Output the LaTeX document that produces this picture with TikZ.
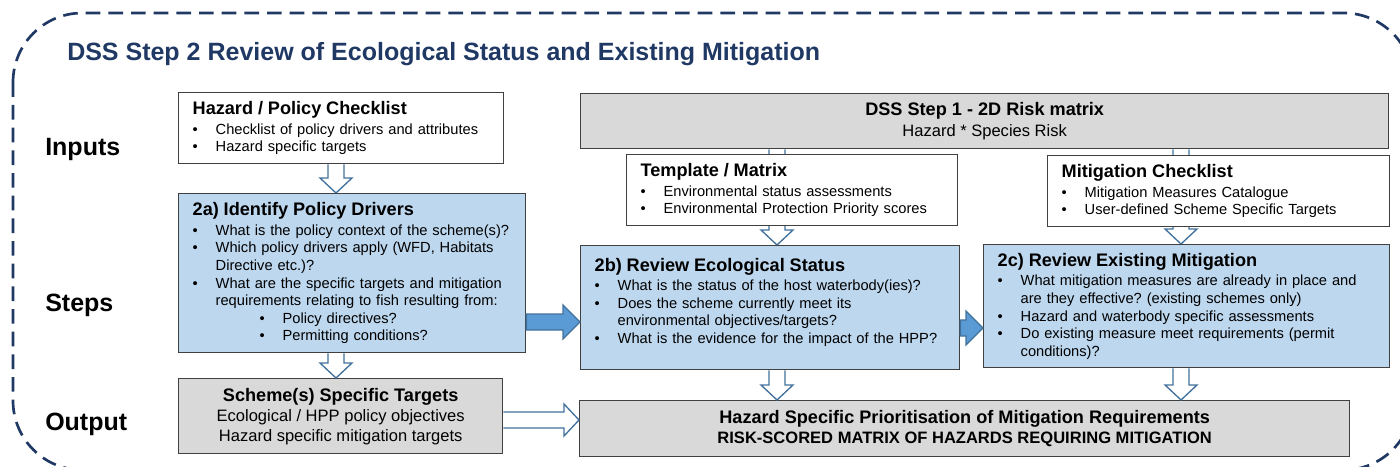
\documentclass[tikz,border=0pt]{standalone}
\usepackage{fontspec}
\setmainfont{Liberation Sans}
\usetikzlibrary{calc, backgrounds}
\frenchspacing

\definecolor{navy}{RGB}{31,56,100}
\definecolor{boxline}{RGB}{64,64,64}
\definecolor{greyfill}{RGB}{217,217,217}
\definecolor{stepfill}{RGB}{189,215,238}
\definecolor{arrowfill}{RGB}{91,155,213}
\definecolor{arrowline}{RGB}{65,113,156}

\newcommand{\hd}[1]{{\fontsize{13.6pt}{16pt}\selectfont\bfseries #1}}
\newcommand{\bl}{\makebox[17.25pt][l]{\textbullet}}
\newcommand{\subbl}{\hspace*{50.25pt}\bl}
\newcommand{\ind}{\hspace*{17.25pt}}

\newcommand{\hollowdown}[2]{%
  \draw [hollowarrow] let \p1=(#1), \p2=(#2) in
    (\x1-6pt,\y1) -- (\x1-6pt,\y2+11.25pt) -- (\x1-12pt,\y2+11.25pt) -- (\x1,\y2)
    -- (\x1+12pt,\y2+11.25pt) -- (\x1+6pt,\y2+11.25pt) -- (\x1+6pt,\y1);}
\newcommand{\hollowright}[2]{%
  \draw [hollowarrow] let \p1=(#1), \p2=(#2) in
    (\x1,\y1+6pt) -- (\x2-11.25pt,\y1+6pt) -- (\x2-11.25pt,\y1+12pt) -- (\x2,\y1)
    -- (\x2-11.25pt,\y1-12pt) -- (\x2-11.25pt,\y1-6pt) -- (\x1,\y1-6pt);}
\newcommand{\blockright}[2]{%
  \draw [blockarrow] let \p1=(#1), \p2=(#2) in
    (\x1,\y1+6pt) -- (\x2-12.75pt,\y1+6pt) -- (\x2-12.75pt,\y1+12.75pt) -- (\x2,\y1)
    -- (\x2-12.75pt,\y1-12.75pt) -- (\x2-12.75pt,\y1-6pt) -- (\x1,\y1-6pt) -- cycle;}

\begin{document}
\begin{tikzpicture}[x=0.75pt, y=-0.75pt]
        \tikzstyle{dashframe} = [draw=navy, line width=2pt, dash pattern=on 11pt off 6pt, rounded corners=52pt]
        \tikzstyle{rowlabel} = [anchor=base west, inner sep=0pt, font=\fontsize{18.75pt}{22pt}\selectfont\bfseries]
        \tikzstyle{listbox} = [rectangle, anchor=north west, draw=boxline, line width=1pt, align=left, inner xsep=10.5pt, inner ysep=0pt, font=\fontsize{11pt}{13.2pt}\selectfont]
        \tikzstyle{inbox} = [listbox, fill=white]
        \tikzstyle{stepbox} = [listbox, fill=stepfill]
        \tikzstyle{outbox} = [rectangle, anchor=north west, draw=boxline, line width=1pt, fill=greyfill, align=center, inner sep=0pt, font=\fontsize{12.4pt}{15pt}\selectfont]
        \tikzstyle{hollowarrow} = [draw=arrowline, line width=1pt, fill=white, line join=miter]
        \tikzstyle{blockarrow} = [draw=arrowline, line width=1pt, fill=arrowfill, line join=miter]

        \useasboundingbox (0,0) rectangle (1400,467);
        \draw [dashframe] (13,13) rectangle (1413,470);

        \node (title) [anchor=base west, inner sep=0pt, text=navy, font=\fontsize{18.75pt}{22pt}\selectfont\bfseries] at (67,61) {DSS Step 2 Review of Ecological Status and Existing Mitigation};
        \node (inputs) [rowlabel] at (45,156) {Inputs};
        \node (steps) [rowlabel] at (45,311) {Steps};
        \node (output) [rowlabel] at (45,430) {Output};

        \node (hpc) [inbox, text width=222.75pt, minimum height=53.25pt] at (178,92) {\hd{Hazard / Policy Checklist}\\[1.5pt]
            \bl Checklist of policy drivers and attributes\\
            \bl Hazard specific targets};
        \node (dss1) [outbox, minimum width=606pt, minimum height=41.25pt] at (580,93) {\hd{DSS Step 1 - 2D Risk matrix}\\[1pt]
            Hazard * Species Risk};
        \node (tmpl) [inbox, text width=227.25pt, minimum height=53.25pt] at (626,154) {\hd{Template / Matrix}\\[1.5pt]
            \bl Environmental status assessments\\
            \bl Environmental Protection Priority scores};
        \node (mitc) [inbox, text width=235.5pt, minimum height=53.25pt] at (1047,155) {\hd{Mitigation Checklist}\\[1.5pt]
            \bl Mitigation Measures Catalogue\\
            \bl User-defined Scheme Specific Targets};

        \node (pa) [stepbox, text width=239.25pt, minimum height=119.25pt] at (178,193) {\hd{2a) Identify Policy Drivers}\\[1.5pt]
            \bl What is the policy context of the scheme(s)?\\
            \bl Which policy drivers apply (WFD, Habitats\\
            \ind Directive etc.)?\\
            \bl What are the specific targets and mitigation\\
            \ind requirements relating to fish resulting from:\\
            \subbl Policy directives?\\
            \subbl Permitting conditions?};
        \node (pb) [stepbox, text width=263.25pt, minimum height=93pt] at (580,245) {\hd{2b) Review Ecological Status}\\[1.5pt]
            \bl What is the status of the host waterbody(ies)?\\
            \bl Does the scheme currently meet its\\
            \ind environmental objectives/targets?\\
            \bl What is the evidence for the impact of the HPP?\rule[-10.5pt]{0pt}{10.5pt}};
        \node (pc) [stepbox, text width=283.5pt, minimum height=92.25pt] at (983,244) {\hd{2c) Review Existing Mitigation}\\[1.5pt]
            \bl What mitigation measures are already in place and\\
            \ind are they effective? (existing schemes only)\\
            \bl Hazard and waterbody specific assessments\\
            \bl Do existing measure meet requirements (permit\\
            \ind conditions)?};

        \node (sst) [outbox, minimum width=243pt, minimum height=56.25pt] at (178,378) {\hd{Scheme(s) Specific Targets}\\
            Ecological / HPP policy objectives\\
            Hazard specific mitigation targets};
        \node (hsp) [outbox, minimum width=577.5pt, minimum height=42pt] at (579,400) {\hd{Hazard Specific Prioritisation of Mitigation Requirements}\\
            \textbf{RISK-SCORED MATRIX OF HAZARDS REQUIRING MITIGATION}};

        \coordinate (colA) at (336,0);
        \coordinate (colB) at (777,0);
        \coordinate (colC) at (1181,0);
        \coordinate (rowAB) at (0,322);
        \coordinate (rowBC) at (0,328);
        \coordinate (rowOut) at (0,420);

        \begin{scope}[on background layer]
            \hollowdown{hpc.south -| colA}{pa.north -| colA}
            \hollowdown{dss1.south -| colB}{pb.north -| colB}
            \hollowdown{dss1.south -| colC}{pc.north -| colC}
        \end{scope}
        \hollowdown{pa.south -| colA}{sst.north -| colA}
        \hollowdown{pb.south -| colB}{hsp.north -| colB}
        \hollowdown{pc.south -| colC}{hsp.north -| colC}
        \hollowright{sst.east |- rowOut}{hsp.west |- rowOut}
        \blockright{pa.east |- rowAB}{pb.west |- rowAB}
        \blockright{pb.east |- rowBC}{pc.west |- rowBC}
    \end{tikzpicture}
\end{document}
